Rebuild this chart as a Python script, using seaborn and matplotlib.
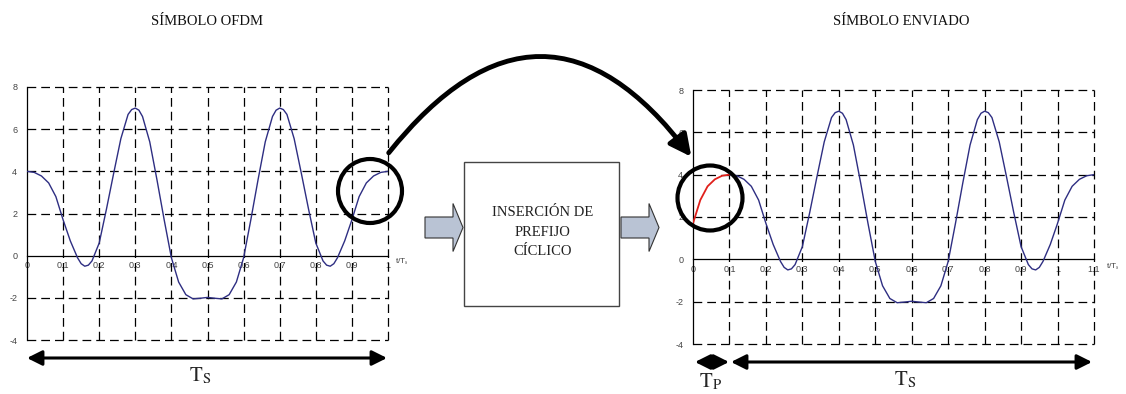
import matplotlib
matplotlib.use("Agg")
import matplotlib.pyplot as plt
import seaborn as sns
from matplotlib.patches import Circle, FancyArrowPatch, FancyArrow, Rectangle

sns.set_style("white")
plt.rcParams["font.family"] = ["Liberation Sans", "DejaVu Sans"]
plt.rcParams["mathtext.fontset"] = "stix"
plt.rcParams["axes.unicode_minus"] = False

# simbolo OFDM (t/Ts)
t_symbol = [0.00, 0.02, 0.04, 0.06, 0.08, 0.10, 0.12, 0.14, 0.15, 0.16, 0.17, 0.18,
            0.20, 0.22, 0.24, 0.26, 0.28, 0.29, 0.30, 0.31, 0.32, 0.34, 0.36, 0.38,
            0.40, 0.42, 0.44, 0.46, 0.48, 0.50, 0.52, 0.54, 0.56, 0.58,
            0.60, 0.62, 0.64, 0.66, 0.68, 0.69, 0.70, 0.71, 0.72, 0.74, 0.76, 0.78,
            0.80, 0.82, 0.83, 0.84, 0.85, 0.86, 0.88, 0.90, 0.92, 0.94, 0.96, 0.98, 1.00]
s_symbol = [4.00, 3.95, 3.78, 3.45, 2.80, 1.70, 0.70, -0.10, -0.38, -0.50, -0.45, -0.25,
            0.60, 2.20, 3.90, 5.55, 6.70, 6.93, 7.00, 6.90, 6.60, 5.40, 3.60, 1.70,
            -0.10, -1.25, -1.85, -2.05, -2.02, -1.98, -2.02, -2.05, -1.85, -1.25,
            -0.10, 1.70, 3.60, 5.40, 6.60, 6.90, 7.00, 6.93, 6.70, 5.55, 3.90, 2.20,
            0.60, -0.25, -0.45, -0.50, -0.38, -0.10, 0.70, 1.70, 2.80, 3.45, 3.78, 3.95, 4.00]

T_P = 0.1       # duracion del prefijo ciclico
n_prefix = 5    # muestras del ultimo 10% del simbolo (0.90 .. 0.98)

left_ticks = [0, 0.1, 0.2, 0.3, 0.4, 0.5, 0.6, 0.7, 0.8, 0.9, 1.0]
left_labels = ["0", "0.1", "0.2", "0.3", "0.4", "0.5", "0.6", "0.7", "0.8", "0.9", "1"]
right_ticks = [0, 0.1, 0.2, 0.3, 0.4, 0.5, 0.6, 0.7, 0.8, 0.9, 1.0, 1.1]
right_labels = ["0", "0.1", "0.2", "0.3", "0.4", "0.5", "0.6", "0.7", "0.8", "0.9", "1", "1.1"]
y_ticks = [-4, -2, 0, 2, 4, 6, 8]

# simbolo enviado = prefijo (copia del final) + simbolo
t_prefix = [t - t_symbol[-n_prefix - 1] for t in t_symbol[-n_prefix - 1:]]
s_prefix = s_symbol[-n_prefix - 1:]
t_sent = [t + T_P for t in t_symbol]

W, H = 1126, 394
fig = plt.figure(figsize=(W / 100, H / 100), dpi=100)

dash = (0, (7, 4))
curve_col = "#2E2E82"


def setup_axes(ax, ticks, labels, t_max):
    ax.set_xlim(0, t_max)
    ax.set_ylim(-4, 8)
    for x in ticks[1:]:
        ax.axvline(x, color="black", lw=0.9, ls=dash, clip_on=False, zorder=1)
    for y in y_ticks:
        if y != 0:
            ax.axhline(y, color="black", lw=0.9, ls=dash, clip_on=False, zorder=1)
    for side in ["top", "right"]:
        ax.spines[side].set_visible(False)
    ax.spines["bottom"].set_position(("data", 0))
    ax.spines["left"].set_position(("data", 0))
    for side in ["bottom", "left"]:
        ax.spines[side].set_color("black")
        ax.spines[side].set_linewidth(0.9)
    ax.set_xticks(ticks)
    ax.set_xticklabels(labels)
    ax.set_yticks(y_ticks)
    ax.tick_params(axis="both", direction="inout", length=4, width=0.8,
                   labelsize=6.5, labelcolor="#444444", pad=2)
    ax.tick_params(axis="y", pad=5)
    ax.patch.set_alpha(0)
    ax.set_xlabel("")
    ax.set_ylabel("")


ax1 = fig.add_axes([27 / W, 1 - 340 / H, 361 / W, 253 / H])
setup_axes(ax1, left_ticks, left_labels, 1.0)
sns.lineplot(x=t_symbol, y=s_symbol, ax=ax1, color=curve_col, lw=1.0, zorder=3)

ax2 = fig.add_axes([693 / W, 1 - 344 / H, 401 / W, 254 / H])
setup_axes(ax2, right_ticks, right_labels, 1.1)
sns.lineplot(x=t_sent, y=s_symbol, ax=ax2, color=curve_col, lw=1.0, zorder=3)
sns.lineplot(x=t_prefix, y=s_prefix, ax=ax2, color="#E0201B", lw=1.3, zorder=4)

# capa del diagrama en pixeles
ov = fig.add_axes([0, 0, 1, 1], zorder=10)
ov.set_xlim(0, W)
ov.set_ylim(H, 0)
ov.axis("off")
ov.patch.set_alpha(0)

serif = ["Liberation Serif", "DejaVu Serif"]
ov.text(207, 21, "SÍMBOLO OFDM", ha="center", va="center", fontsize=10.5, family=serif, color="#111111")
ov.text(901, 21, "SÍMBOLO ENVIADO", ha="center", va="center", fontsize=10.5, family=serif, color="#111111")
ov.text(402, 262, r"t/T$_\mathrm{s}$", ha="center", va="center", fontsize=6, color="#444444")
ov.text(1113, 267, r"t/T$_\mathrm{s}$", ha="center", va="center", fontsize=6, color="#444444")

ov.add_patch(Circle((370, 191), 32, fill=False, lw=3, ec="black"))
ov.add_patch(Circle((710, 198), 32.5, fill=False, lw=3, ec="black"))

ov.add_patch(FancyArrowPatch((387, 155), (693, 159), connectionstyle="arc3,rad=-0.65",
                             arrowstyle="-|>,head_length=1.0,head_width=0.5",
                             mutation_scale=13, lw=3.5, color="black"))

ov.add_patch(Rectangle((464, 162), 155, 144, fill=False, ec="#444444", lw=1))
ov.text(543, 232, "INSERCIÓN DE\nPREFIJO\nCÍCLICO", ha="center", va="center",
        fontsize=10.5, family=serif, linespacing=1.62, color="#222222")

for x0 in [425, 621]:
    ov.add_patch(FancyArrow(x0, 227.5, 38, 0, width=21, head_width=48, head_length=10,
                            length_includes_head=True, fc="#B9C3D4", ec="#333333", lw=0.8))

for (xa, xb, yy) in [(27, 387, 358), (695, 729, 362), (731, 1092, 362)]:
    ov.add_patch(FancyArrowPatch((xa, yy), (xb, yy), arrowstyle="<|-|>,head_length=0.9,head_width=0.45",
                                 mutation_scale=10, lw=2.2, color="black", shrinkA=0, shrinkB=0))

ov.text(200, 376, r"$\mathrm{T}_\mathrm{S}$", ha="center", va="center", fontsize=15)
ov.text(905, 380, r"$\mathrm{T}_\mathrm{S}$", ha="center", va="center", fontsize=15)
ov.text(711, 382, r"$\mathrm{T}_\mathrm{P}$", ha="center", va="center", fontsize=15)

fig.savefig("out.png", dpi=100)
